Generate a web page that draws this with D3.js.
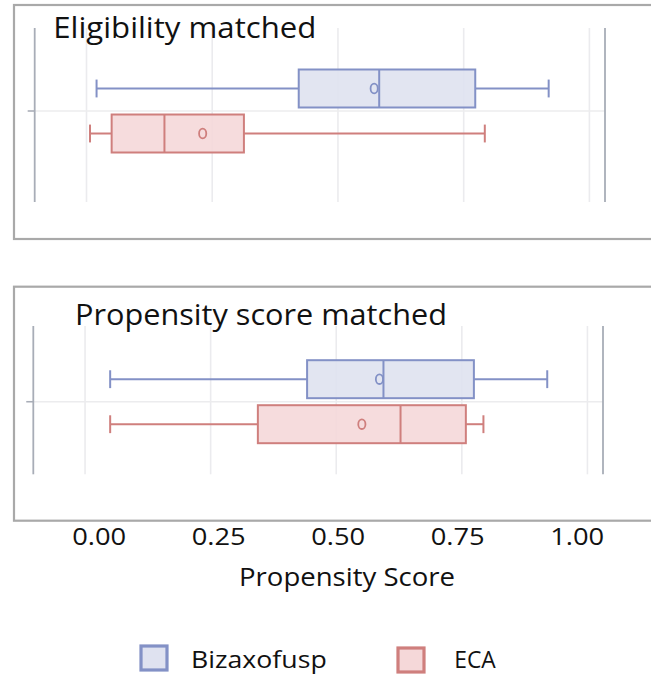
<!DOCTYPE html>
<html>
<head>
<meta charset="utf-8">
<script src="https://cdn.jsdelivr.net/npm/d3@7"></script>
<style>
  html, body { margin: 0; padding: 0; background: #fff; }
  svg { display: block; }
  text { font-family: "Open Sans", "Noto Sans", sans-serif; fill: #111; }
</style>
</head>
<body>
<svg id="chart" width="651" height="676"></svg>
<script>
// ---- data ----
const panels = ["Eligibility matched", "Propensity score matched"];
const groups = ["Bizaxofusp", "ECA"];
// Bizaxofusp per panel
const bizLow  = [0.020, 0.050];
const bizQ1   = [0.422, 0.442];
const bizMed  = [0.582, 0.594];
const bizQ3   = [0.773, 0.774];
const bizHigh = [0.919, 0.920];
const bizMean = [0.572, 0.586];
// ECA per panel
const ecaLow  = [0.007, 0.050];
const ecaQ1   = [0.050, 0.344];
const ecaMed  = [0.155, 0.628];
const ecaQ3   = [0.313, 0.758];
const ecaHigh = [0.792, 0.793];
const ecaMean = [0.231, 0.551];
const tickValues = [0, 0.25, 0.5, 0.75, 1];
const tickLabels = ["0.00", "0.25", "0.50", "0.75", "1.00"];
const xTitle = "Propensity Score";

// ---- layout / style ----
const xDomain = [-0.103, 1.031];
const layout = [
  { frameX: [34.7, 605], frameY: [28, 202], center: 111, border: [5, 239], titleX: 53.3, titleY: 38.3, titleLen: 263 },
  { frameX: [33.3, 603], frameY: [326, 474.3], center: 401.7, border: [286.7, 520.7], titleX: 75, titleY: 325, titleLen: 372 }
];
const stroke = { Bizaxofusp: "#8391c6", ECA: "#cf7f7d" };
const fill = { Bizaxofusp: "#dfe2f0", ECA: "#f5d8d9" };

const svg = d3.select("#chart");

const stats = {
  Bizaxofusp: { low: bizLow, q1: bizQ1, med: bizMed, q3: bizQ3, high: bizHigh, mean: bizMean },
  ECA: { low: ecaLow, q1: ecaQ1, med: ecaMed, q3: ecaQ3, high: ecaHigh, mean: ecaMean }
};

const dodge = d3.scaleBand().domain(groups).range([-41.5, 41.5]).paddingInner(0.156).paddingOuter(0);

panels.forEach((name, i) => {
  const L = layout[i];
  const x = d3.scaleLinear().domain(xDomain).range(L.frameX);
  const g = svg.append("g");

  // panel border (open at right edge of the canvas)
  g.append("rect")
    .attr("x", 14).attr("y", L.border[0])
    .attr("width", 700).attr("height", L.border[1] - L.border[0])
    .attr("fill", "none").attr("stroke", "#a9a9a9").attr("stroke-width", 2.2);

  // vertical grid lines
  g.selectAll("line.grid").data(tickValues).join("line")
    .attr("x1", d => x(d)).attr("x2", d => x(d))
    .attr("y1", L.frameY[0]).attr("y2", L.frameY[1])
    .attr("stroke", "#ebebee").attr("stroke-width", 1.6);

  // horizontal category line + tick
  g.append("line")
    .attr("x1", L.frameX[0] - 7).attr("x2", L.frameX[1])
    .attr("y1", L.center).attr("y2", L.center)
    .attr("stroke", "#ececee").attr("stroke-width", 1.6);
  g.append("line")
    .attr("x1", L.frameX[0] - 7).attr("x2", L.frameX[0])
    .attr("y1", L.center).attr("y2", L.center)
    .attr("stroke", "#a8adb7").attr("stroke-width", 1.5);

  // frame side lines
  g.selectAll("line.frame").data(xDomain).join("line")
    .attr("x1", d => x(d)).attr("x2", d => x(d))
    .attr("y1", L.frameY[0]).attr("y2", L.frameY[1])
    .attr("stroke", "#a8adb7").attr("stroke-width", 1.8);

  // boxes
  groups.forEach(s => {
    const st = stats[s];
    const bw = dodge.bandwidth();
    const top = L.center + dodge(s);
    const cy = top + bw / 2;
    const capH = bw * 0.47;
    const bg = g.append("g");
    // whiskers
    bg.append("line").attr("x1", x(st.low[i])).attr("x2", x(st.q1[i]))
      .attr("y1", cy).attr("y2", cy).attr("stroke", stroke[s]).attr("stroke-width", 2);
    bg.append("line").attr("x1", x(st.q3[i])).attr("x2", x(st.high[i]))
      .attr("y1", cy).attr("y2", cy).attr("stroke", stroke[s]).attr("stroke-width", 2);
    [st.low[i], st.high[i]].forEach(v => {
      bg.append("line").attr("x1", x(v)).attr("x2", x(v))
        .attr("y1", cy - capH / 2).attr("y2", cy + capH / 2)
        .attr("stroke", stroke[s]).attr("stroke-width", 2);
    });
    // box
    bg.append("rect").attr("x", x(st.q1[i])).attr("y", top)
      .attr("width", x(st.q3[i]) - x(st.q1[i])).attr("height", bw)
      .attr("fill", fill[s]).attr("fill-opacity", 0.9)
      .attr("stroke", stroke[s]).attr("stroke-width", 2);
    // median
    bg.append("line").attr("x1", x(st.med[i])).attr("x2", x(st.med[i]))
      .attr("y1", top).attr("y2", top + bw).attr("stroke", stroke[s]).attr("stroke-width", 2);
    // mean
    bg.append("ellipse").attr("cx", x(st.mean[i])).attr("cy", cy)
      .attr("rx", 3.6).attr("ry", 4.8)
      .attr("fill", "none").attr("stroke", stroke[s]).attr("stroke-width", 1.8);
  });

  // panel title
  g.append("text")
    .attr("x", L.titleX).attr("y", L.titleY)
    .attr("font-size", 30)
    .attr("textLength", L.titleLen).attr("lengthAdjust", "spacingAndGlyphs")
    .text(name);
});

// shared x axis labels (placed as in the composite figure)
const xAxisScale = d3.scaleLinear().domain([0, 1]).range([98.7, 576.7]);
const axis = d3.axisBottom(xAxisScale).tickValues(tickValues)
  .tickFormat((d, k) => tickLabels[k]).tickSize(0).tickPadding(0);
const ax = svg.append("g").attr("transform", "translate(0,528)").call(axis);
ax.select(".domain").remove();
ax.selectAll("text")
  .attr("font-size", 23).attr("font-family", "'Open Sans', sans-serif")
  .attr("fill", "#111").attr("dy", "0.72em")
  .attr("textLength", 54).attr("lengthAdjust", "spacingAndGlyphs");

svg.append("text")
  .attr("x", 347).attr("y", 586.3).attr("text-anchor", "middle")
  .attr("font-size", 25.5)
  .attr("textLength", 216).attr("lengthAdjust", "spacingAndGlyphs")
  .text(xTitle);

// legend
const legendPos = [
  { sx: 141, sy: 646, tx: 191, ty: 668, len: 135.7 },
  { sx: 398, sy: 648, tx: 454.3, ty: 668, len: 41.5 }
];
groups.forEach((s, k) => {
  const p = legendPos[k];
  svg.append("rect").attr("x", p.sx).attr("y", p.sy)
    .attr("width", 26).attr("height", 24)
    .attr("fill", fill[s]).attr("stroke", stroke[s]).attr("stroke-width", 3.2);
  svg.append("text").attr("x", p.tx).attr("y", p.ty)
    .attr("font-size", 24)
    .attr("textLength", p.len).attr("lengthAdjust", "spacingAndGlyphs")
    .text(s);
});
</script>
</body>
</html>
